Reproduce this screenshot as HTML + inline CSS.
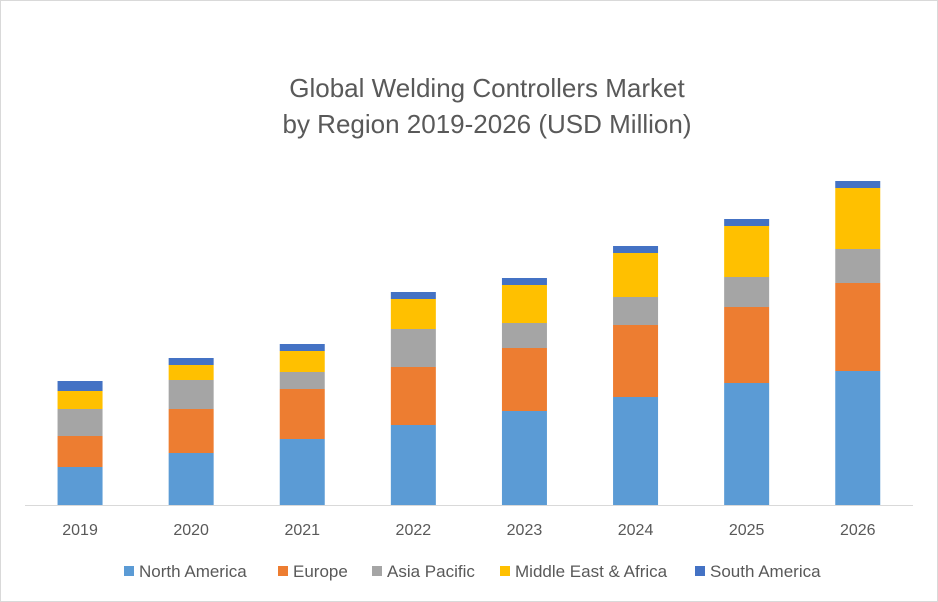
<!DOCTYPE html>
<html><head><meta charset="utf-8"><style>
body{margin:0;background:#fff;}
svg{display:block;font-family:"Liberation Sans",Calibri,sans-serif;}
</style></head><body>
<svg id="chart" width="938" height="602">
<rect x="0.5" y="0.5" width="937" height="601" fill="#fff" stroke="#d9d9d9"/>
<text x="487" y="97" text-anchor="middle" font-size="26" fill="#595959">Global Welding Controllers Market</text>
<text x="487" y="133" text-anchor="middle" font-size="26" fill="#595959">by Region 2019-2026 (USD Million)</text>
<line x1="25" y1="505.5" x2="913" y2="505.5" stroke="#d9d9d9"/>
<g id="bars"></g><g id="xlabels"></g><g id="legend"></g>
</svg>
<script>
const categories=["2019","2020","2021","2022","2023","2024","2025","2026"];
const northAmerica=[38,52,66,80,94,108,122,134];
const europe=[31,44,50,58,63,72,76,88];
const asiaPacific=[27,29,17,38,25,28,30,34];
const middleEastAfrica=[18,15,21,30,38,44,51,61];
const southAmerica=[10,7,7,7,7,7,7,7];
const seriesNames=["North America","Europe","Asia Pacific","Middle East & Africa","South America"];
const colors=["#5b9bd5","#ed7d31","#a5a5a5","#ffc000","#4472c4"];
const series=[northAmerica,europe,asiaPacific,middleEastAfrica,southAmerica];
const ns="http://www.w3.org/2000/svg";
const baseY=505, x0=24.5, step=111.1, barW=45;
function xScale(i){return x0+step*(i+0.5);}
function yScale(v){return baseY-v;}
const gb=document.getElementById('bars'), gx=document.getElementById('xlabels'), gl=document.getElementById('legend');
categories.forEach((c,i)=>{
  let acc=0;
  series.forEach((s,k)=>{
    const r=document.createElementNS(ns,'rect');
    r.setAttribute('x',xScale(i)-barW/2);
    r.setAttribute('y',yScale(acc+s[i]));
    r.setAttribute('width',barW);
    r.setAttribute('height',s[i]);
    r.setAttribute('fill',colors[k]);
    
    
    gb.appendChild(r);
    acc+=s[i];
  });
  const t=document.createElementNS(ns,'text');
  t.setAttribute('x',xScale(i));t.setAttribute('y',535);
  t.setAttribute('text-anchor','middle');t.setAttribute('font-size','16');t.setAttribute('fill','#595959');
  t.textContent=c;
  
  
  gx.appendChild(t);
});
const legX=[124,278,372,500,695];
seriesNames.forEach((n,k)=>{
  const g=document.createElementNS(ns,'g');
  
  
  const r=document.createElementNS(ns,'rect');
  r.setAttribute('x',legX[k]);r.setAttribute('y',566);r.setAttribute('width',10);r.setAttribute('height',10);r.setAttribute('fill',colors[k]);
  const t=document.createElementNS(ns,'text');
  t.setAttribute('x',legX[k]+15);t.setAttribute('y',577);t.setAttribute('font-size','17');t.setAttribute('fill','#595959');
  t.textContent=n;
  g.appendChild(r);g.appendChild(t);gl.appendChild(g);
});
</script>
</body></html>
